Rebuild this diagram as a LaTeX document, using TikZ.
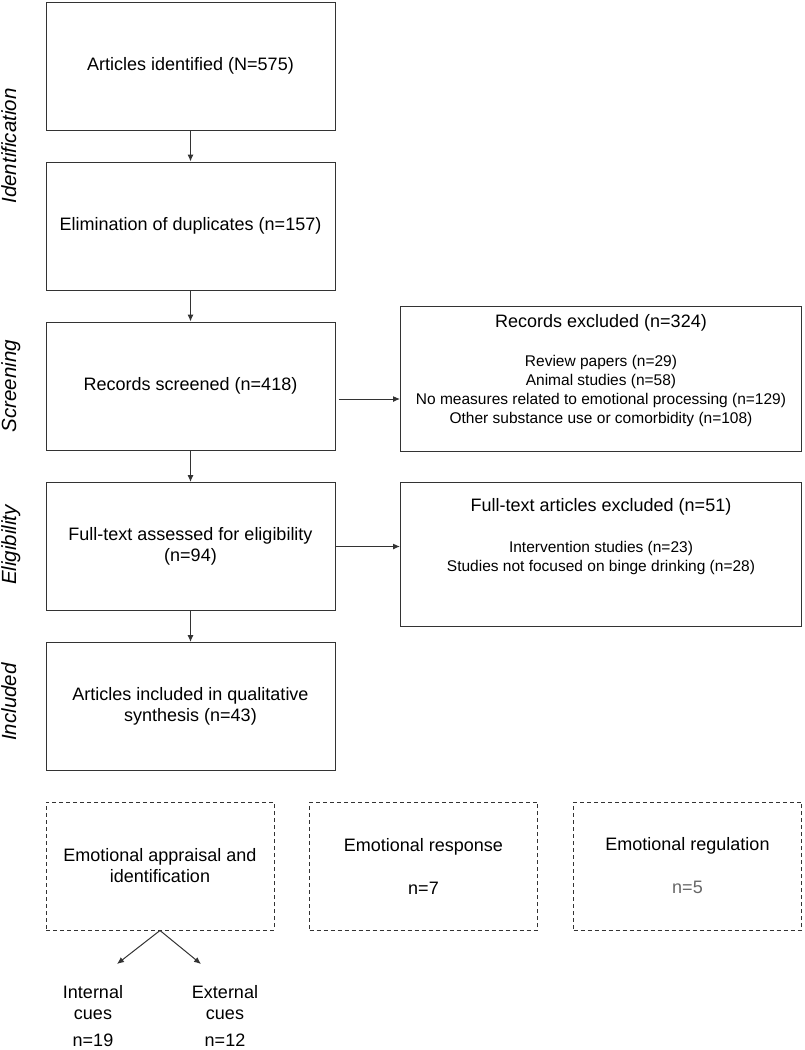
\documentclass[tikz,border=0pt]{standalone}
\usepackage{fontspec}
\setmainfont{Liberation Sans}
\usepackage{tikz}
\usetikzlibrary{arrows.meta,positioning}
\tikzstyle{stage}=[draw=black!80,line width=1pt,minimum width=289pt,minimum height=128pt,align=center,inner sep=0pt,font=\fontsize{18}{21}\selectfont]
\tikzstyle{excl}=[draw=black!80,line width=1pt,minimum width=401pt,inner sep=0pt]
\tikzstyle{theme}=[draw=black!80,line width=1pt,dash pattern=on 4pt off 3pt,minimum width=228pt,minimum height=128pt,align=center,inner sep=0pt,font=\fontsize{18}{21}\selectfont]
\tikzstyle{phase}=[rotate=90,anchor=north,inner sep=0pt,font=\fontsize{20.5}{24}\selectfont\itshape]
\tikzstyle{headtext}=[align=center,inner sep=0pt,font=\fontsize{18}{21}\selectfont]
\tikzstyle{itemtext}=[align=center,inner sep=0pt,font=\fontsize{15.5}{19.3}\selectfont]
\tikzstyle{flow}=[line width=1pt,draw=black!80,-{Latex[length=7pt,width=6pt]}]

\begin{document}
\begin{tikzpicture}[x=1pt,y=-1pt]
\useasboundingbox (0,0) rectangle (804,1050);

\node [phase] (identification) at (1,146) {Identification};
\node [phase] (screening) at (1,386) {Screening};
\node [phase] (eligibility) at (1,545) {Eligibility};
\node [phase] (inclusion) at (1,702) {Included};

\node [stage] (identified) at (190.5,66) {Articles identified (N=575)};
\node [stage] (duplicates) at (190.5,226) {Elimination of duplicates (n=157)};
\node [stage] (screened) at (190.5,386) {Records screened (n=418)};
\node [stage] (assessed) at (190.5,546.5) {Full-text assessed for eligibility\\(n=94)};
\node [stage] (included) at (190.5,706.5) {Articles included in qualitative\\synthesis (n=43)};

\node [excl,minimum height=145pt] (recexcl) at (601,378.5) {};
\node [headtext] (recexcltitle) at (601,323) {Records excluded (n=324)};
\node [itemtext] (recexcllist) at (601,391) {Review papers (n=29)\\Animal studies (n=58)\\No measures related to emotional processing (n=129)\\Other substance use or comorbidity (n=108)};

\node [excl,minimum height=144pt] (fullexcl) at (601,554) {};
\node [headtext] (fullexcltitle) at (601,507) {Full-text articles excluded (n=51)};
\node [itemtext] (fullexcllist) at (601,558) {Intervention studies (n=23)\\Studies not focused on binge drinking (n=28)};

\node [theme] (appraisal) at (160,866) {Emotional appraisal and\\identification};
\node [theme] (response) at (423.5,866) {Emotional response\\[22pt]n=7};
\node [theme] (regulation) at (687.5,866) {Emotional regulation\\[22pt]\textcolor{black!60}{n=5}};

\coordinate (internalend) at (117,964);
\coordinate (externalend) at (201,964);
\node [headtext] (internal) at (93,1016) {Internal\\cues\\[6pt]n=19};
\node [headtext] (external) at (225,1016) {External\\cues\\[6pt]n=12};

\draw [flow] (identified) -- (duplicates);
\draw [flow] (duplicates) -- (screened);
\draw [flow] (screened) -- (assessed);
\draw [flow] (assessed) -- (included);
\draw [flow] ([xshift=3pt,yshift=-13pt]screened.east) -- ([yshift=-13pt]screened.east -| recexcl.west);
\draw [flow] (assessed.east) -- (assessed.east -| fullexcl.west);
\draw [flow] (appraisal.south) -- (internalend);
\draw [flow] (appraisal.south) -- (externalend);
\end{tikzpicture}
\end{document}
